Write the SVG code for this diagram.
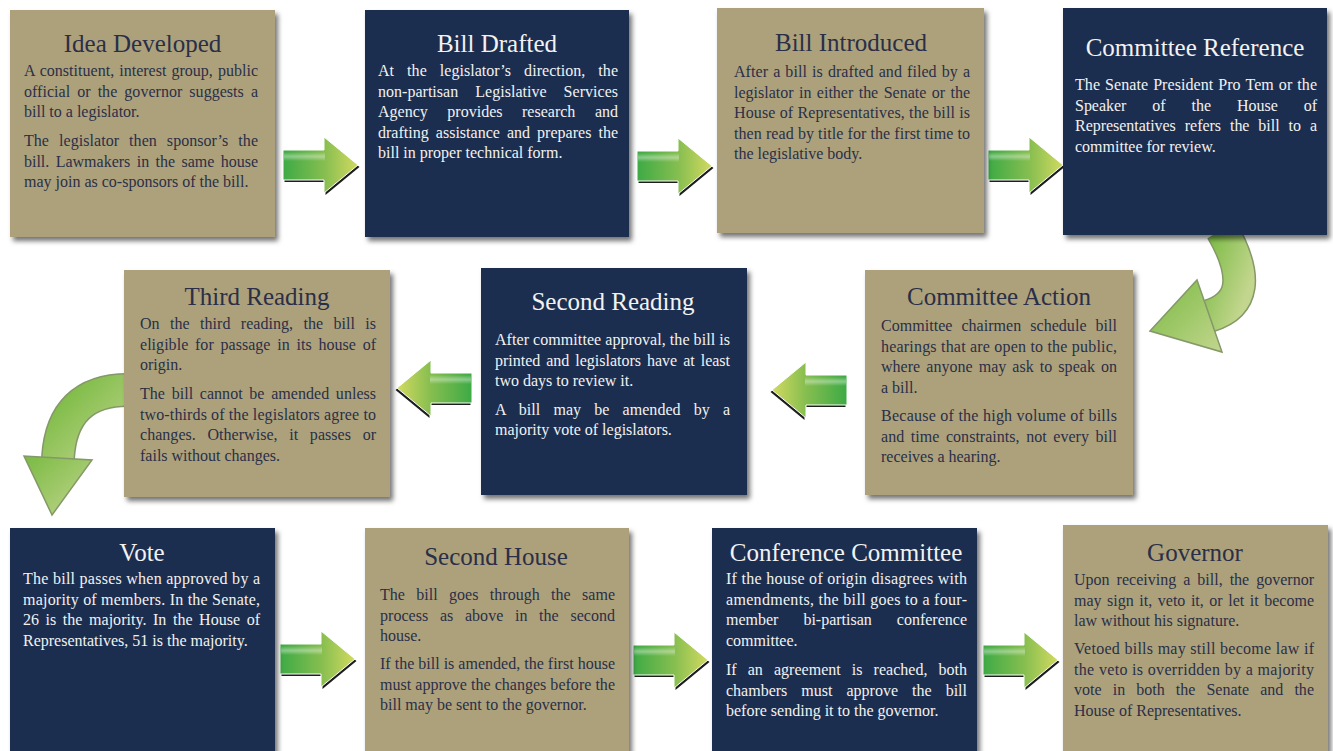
<svg xmlns="http://www.w3.org/2000/svg" xmlns:xlink="http://www.w3.org/1999/xlink" width="1333" height="751" viewBox="0 0 1333 751">
<style>
.tan{fill:#ADA17B}
.navy{fill:#1F2D50}
.t{font-family:"Liberation Serif","Times New Roman",serif;font-size:25px;text-anchor:middle}
.b{font-family:"Liberation Serif","Times New Roman",serif;font-size:16px}
.d{fill:#2A2F47}
.l{fill:#F2F2F2}
</style>
<defs>
<filter id="sh" x="-5%" y="-5%" width="115%" height="115%">
<feDropShadow dx="3" dy="4" stdDeviation="2.5" flood-color="#000" flood-opacity="0.55"/>
</filter>
<linearGradient id="ag" x1="0" y1="0" x2="1" y2="0">
<stop offset="0" stop-color="#3DAA45"/>
<stop offset="0.55" stop-color="#86BE50"/>
<stop offset="1" stop-color="#D2DA60"/>
</linearGradient>
<linearGradient id="sheen" x1="0" y1="0" x2="0" y2="1">
<stop offset="0" stop-color="#fff" stop-opacity="0"/>
<stop offset="0.45" stop-color="#fff" stop-opacity="0.35"/>
<stop offset="0.55" stop-color="#fff" stop-opacity="0.35"/>
<stop offset="1" stop-color="#fff" stop-opacity="0"/>
</linearGradient>
<linearGradient id="cg" x1="0" y1="0" x2="1" y2="1">
<stop offset="0" stop-color="#79BA42"/>
<stop offset="1" stop-color="#C3D68E"/>
</linearGradient>
<g id="arw">
<path d="M0,-15 H41 V-28 L75,0 L41,28 V15 H0 Z" transform="translate(1.5,2)" fill="#1E1E1E"/>
<path d="M0,-15 H41 V-28 L75,0 L41,28 V15 H0 Z" fill="url(#ag)" stroke="#FFFFFF" stroke-width="1"/>
<path d="M1,-13 H42 V-4 H1 Z" fill="url(#sheen)"/>
</g>
</defs>
<rect width="1333" height="751" fill="#FFFFFF"/>

<g id="connectors">
<use xlink:href="#arw" href="#arw" transform="translate(283,165)"/>
<use xlink:href="#arw" href="#arw" transform="translate(637,166)"/>
<use xlink:href="#arw" href="#arw" transform="translate(988,165)"/>
<use xlink:href="#arw" href="#arw" transform="translate(847,390) scale(-1,1)"/>
<use xlink:href="#arw" href="#arw" transform="translate(472,388) scale(-1,1)"/>
<use xlink:href="#arw" href="#arw" transform="translate(280,659)"/>
<use xlink:href="#arw" href="#arw" transform="translate(633,660)"/>
<use xlink:href="#arw" href="#arw" transform="translate(983,660)"/>
<g id="curve-ref-action">
<path d="M1222,230 Q1262,300 1209,316" fill="none" stroke="#849868" stroke-width="34"/>
<path d="M1222,230 Q1262,300 1209,316" fill="none" stroke="url(#cg)" stroke-width="31"/>
<polygon points="1150,331 1197,280 1222,352" fill="url(#cg)" stroke="#849868" stroke-width="1.5"/>
</g>
<g id="curve-third-vote">
<path d="M128,390 Q62,390 58,458" fill="none" stroke="#849868" stroke-width="34"/>
<path d="M128,390 Q62,390 58,458" fill="none" stroke="url(#cg)" stroke-width="31"/>
<polygon points="52,515 24,456 92,460" fill="url(#cg)" stroke="#849868" stroke-width="1.5"/>
</g>
</g>

<g id="idea-developed">
<rect class="tan" x="10" y="10" width="265" height="227" filter="url(#sh)"/>
<text class="t d" x="142.5" y="52">Idea Developed</text>
<g class="b d">
<text x="24" y="76" textLength="234" lengthAdjust="spacing" word-spacing="1">A constituent, interest group, public</text>
<text x="24" y="96.5" textLength="234" lengthAdjust="spacing" word-spacing="3">official or the governor suggests a</text>
<text x="24" y="117">bill to a legislator.</text>
<text x="24" y="146" textLength="234" lengthAdjust="spacing" word-spacing="6">The legislator then sponsor’s the</text>
<text x="24" y="166.5" textLength="234" lengthAdjust="spacing" word-spacing="2.4">bill. Lawmakers in the same house</text>
<text x="24" y="187">may join as co-sponsors of the bill.</text>
</g>
</g>

<g id="bill-drafted">
<rect class="navy" x="365" y="10" width="264" height="227" filter="url(#sh)"/>
<text class="t l" x="497" y="52">Bill Drafted</text>
<g class="b l">
<text x="378" y="76" textLength="240" lengthAdjust="spacing" word-spacing="9">At the legislator’s direction, the</text>
<text x="378" y="96.5" textLength="240" lengthAdjust="spacing" word-spacing="13">non-partisan Legislative Services</text>
<text x="378" y="117" textLength="240" lengthAdjust="spacing" word-spacing="15.5">Agency provides research and</text>
<text x="378" y="137.5" textLength="240" lengthAdjust="spacing" word-spacing="3">drafting assistance and prepares the</text>
<text x="378" y="158">bill in proper technical form.</text>
</g>
</g>

<g id="bill-introduced">
<rect class="tan" x="717" y="8" width="267" height="225" filter="url(#sh)"/>
<text class="t d" x="851" y="51">Bill Introduced</text>
<g class="b d">
<text x="734" y="77" textLength="236" lengthAdjust="spacing" word-spacing="1">After a bill is drafted and filed by a</text>
<text x="734" y="97.5" textLength="236" lengthAdjust="spacing" word-spacing="1.4">legislator in either the Senate or the</text>
<text x="734" y="118" textLength="236" lengthAdjust="spacing">House of Representatives, the bill is</text>
<text x="734" y="138.5" textLength="236" lengthAdjust="spacing">then read by title for the first time to</text>
<text x="734" y="159">the legislative body.</text>
</g>
</g>

<g id="committee-reference">
<rect class="navy" x="1063" y="8" width="264" height="227" filter="url(#sh)"/>
<text class="t l" x="1195" y="56">Committee Reference</text>
<g class="b l">
<text x="1075" y="90" textLength="242" lengthAdjust="spacing" word-spacing="1">The Senate President Pro Tem or the</text>
<text x="1075" y="110.5" textLength="242" lengthAdjust="spacing" word-spacing="22">Speaker of the House of</text>
<text x="1075" y="131" textLength="242" lengthAdjust="spacing" word-spacing="5">Representatives refers the bill to a</text>
<text x="1075" y="151.5">committee for review.</text>
</g>
</g>

<g id="committee-action">
<rect class="tan" x="865" y="270" width="268" height="225" filter="url(#sh)"/>
<text class="t d" x="999" y="305">Committee Action</text>
<g class="b d">
<text x="881" y="331" textLength="236" lengthAdjust="spacing" word-spacing="5">Committee chairmen schedule bill</text>
<text x="881" y="351.5" textLength="236" lengthAdjust="spacing">hearings that are open to the public,</text>
<text x="881" y="372" textLength="236" lengthAdjust="spacing" word-spacing="2">where anyone may ask to speak on</text>
<text x="881" y="392.5">a bill.</text>
<text x="881" y="421" textLength="236" lengthAdjust="spacing">Because of the high volume of bills</text>
<text x="881" y="441.5" textLength="236" lengthAdjust="spacing" word-spacing="2.6">and time constraints, not every bill</text>
<text x="881" y="462">receives a hearing.</text>
</g>
</g>

<g id="second-reading">
<rect class="navy" x="481" y="268" width="266" height="227" filter="url(#sh)"/>
<text class="t l" x="613" y="310">Second Reading</text>
<g class="b l">
<text x="495" y="345" textLength="235" lengthAdjust="spacing">After committee approval, the bill is</text>
<text x="495" y="365.5" textLength="235" lengthAdjust="spacing" word-spacing="2">printed and legislators have at least</text>
<text x="495" y="386">two days to review it.</text>
<text x="495" y="414.5" textLength="235" lengthAdjust="spacing" word-spacing="9">A bill may be amended by a</text>
<text x="495" y="435">majority vote of legislators.</text>
</g>
</g>

<g id="third-reading">
<rect class="tan" x="124" y="270" width="266" height="227" filter="url(#sh)"/>
<text class="t d" x="257" y="305">Third Reading</text>
<g class="b d">
<text x="140" y="329" textLength="236" lengthAdjust="spacing" word-spacing="6.3">On the third reading, the bill is</text>
<text x="140" y="349.5" textLength="236" lengthAdjust="spacing" word-spacing="2.7">eligible for passage in its house of</text>
<text x="140" y="370">origin.</text>
<text x="140" y="399" textLength="236" lengthAdjust="spacing" word-spacing="2.7">The bill cannot be amended unless</text>
<text x="140" y="419.5" textLength="236" lengthAdjust="spacing">two-thirds of the legislators agree to</text>
<text x="140" y="440" textLength="236" lengthAdjust="spacing" word-spacing="7.6">changes. Otherwise, it passes or</text>
<text x="140" y="460.5">fails without changes.</text>
</g>
</g>

<g id="vote">
<rect class="navy" x="10" y="528" width="265" height="230" filter="url(#sh)"/>
<text class="t l" x="142" y="561">Vote</text>
<g class="b l">
<text x="23" y="584" textLength="237" lengthAdjust="spacing">The bill passes when approved by a</text>
<text x="23" y="604.5" textLength="237" lengthAdjust="spacing">majority of members. In the Senate,</text>
<text x="23" y="625" textLength="237" lengthAdjust="spacing" word-spacing="2.5">26 is the majority. In the House of</text>
<text x="23" y="645.5">Representatives, 51 is the majority.</text>
</g>
</g>

<g id="second-house">
<rect class="tan" x="365" y="528" width="264" height="230" filter="url(#sh)"/>
<text class="t d" x="496" y="565">Second House</text>
<g class="b d">
<text x="380" y="600" textLength="235" lengthAdjust="spacing" word-spacing="7.2">The bill goes through the same</text>
<text x="380" y="620.5" textLength="235" lengthAdjust="spacing" word-spacing="7.6">process as above in the second</text>
<text x="380" y="641">house.</text>
<text x="380" y="669" textLength="235" lengthAdjust="spacing">If the bill is amended, the first house</text>
<text x="380" y="689.5" textLength="235" lengthAdjust="spacing">must approve the changes before the</text>
<text x="380" y="710">bill may be sent to the governor.</text>
</g>
</g>

<g id="conference-committee">
<rect class="navy" x="712" y="528" width="265" height="230" filter="url(#sh)"/>
<text class="t l" x="846" y="561">Conference Committee</text>
<g class="b l">
<text x="726" y="584" textLength="241" lengthAdjust="spacing">If the house of origin disagrees with</text>
<text x="726" y="604.5" textLength="241" lengthAdjust="spacing">amendments, the bill goes to a four-</text>
<text x="726" y="625" textLength="241" lengthAdjust="spacing" word-spacing="21">member bi-partisan conference</text>
<text x="726" y="645.5">committee.</text>
<text x="726" y="675" textLength="241" lengthAdjust="spacing" word-spacing="7">If an agreement is reached, both</text>
<text x="726" y="695.5" textLength="241" lengthAdjust="spacing" word-spacing="10">chambers must approve the bill</text>
<text x="726" y="716">before sending it to the governor.</text>
</g>
</g>

<g id="governor">
<rect class="tan" x="1063" y="525" width="265" height="233" filter="url(#sh)"/>
<text class="t d" x="1195" y="561">Governor</text>
<g class="b d">
<text x="1074" y="585" textLength="240" lengthAdjust="spacing" word-spacing="3">Upon receiving a bill, the governor</text>
<text x="1074" y="605.5" textLength="240" lengthAdjust="spacing" word-spacing="1.5">may sign it, veto it, or let it become</text>
<text x="1074" y="626">law without his signature.</text>
<text x="1074" y="654" textLength="240" lengthAdjust="spacing">Vetoed bills may still become law if</text>
<text x="1074" y="674.5" textLength="240" lengthAdjust="spacing">the veto is overridden by a majority</text>
<text x="1074" y="695" textLength="240" lengthAdjust="spacing" word-spacing="7">vote in both the Senate and the</text>
<text x="1074" y="715.5">House of Representatives.</text>
</g>
</g>
</svg>
